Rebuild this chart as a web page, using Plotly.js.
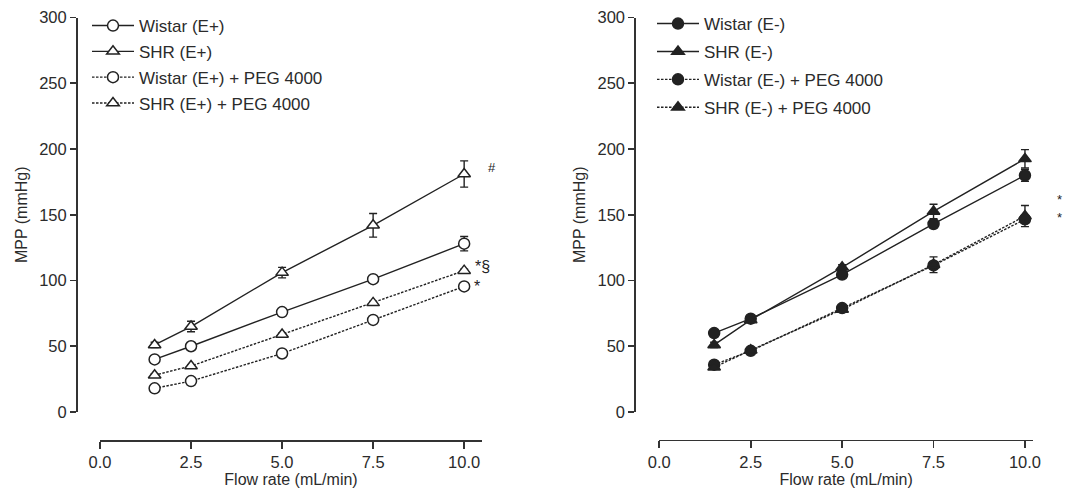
<!DOCTYPE html>
<html><head><meta charset="utf-8">
<script src="https://cdn.plot.ly/plotly-3.0.1.min.js"></script>
<style>html,body{margin:0;padding:0;background:#fff}</style>
</head><body><div id="chart" style="width:1066px;height:488px"></div>
<script>
// ---- data ----
const flowRate = [1.5, 2.5, 5, 7.5, 10];
const xTickVals = [0, 2.5, 5, 7.5, 10];
const xTickText = ['0.0', '2.5', '5.0', '7.5', '10.0'];
const yTickVals = [0, 50, 100, 150, 200, 250, 300];

const wistarEplus = [40, 50, 76, 101, 128];
const wistarEplusErr = [2, 2, 2, 2, 5.5];
const shrEplus = [51, 65, 106, 142, 181];
const shrEplusErr = [2, 4, 4, 9, 10];
const wistarEplusPeg = [18, 23.5, 44.5, 70, 95.5];
const wistarEplusPegErr = [1, 1, 1, 1, 1];
const shrEplusPeg = [28, 35, 59, 83, 107.5];
const shrEplusPegErr = [1, 1, 1, 1, 1];

const wistarEminus = [60, 71, 104.5, 143, 180];
const wistarEminusErr = [2, 2, 2, 2, 4.5];
const shrEminus = [51, 70, 110, 152.5, 192.5];
const shrEminusErr = [2, 2, 2, 5.5, 7];
const wistarEminusPeg = [36, 46.5, 79, 111.5, 146.5];
const wistarEminusPegErr = [1, 1, 1, 1, 1];
const shrEminusPeg = [34, 47, 78, 112, 149];
const shrEminusPegErr = [1, 1, 1, 6, 8];

const namesLeft = ['Wistar (E+)', 'SHR (E+)', 'Wistar (E+) + PEG 4000', 'SHR (E+) + PEG 4000'];
const namesRight = ['Wistar (E-)', 'SHR (E-)', 'Wistar (E-) + PEG 4000', 'SHR (E-) + PEG 4000'];

// ---- helpers ----
const W = 1066, H = 488;
const fx = p => p / W, fy = p => 1 - p / H;
const INK = '#222';
const TXT = '#2b2b2b';
const FONT = 'Liberation Sans, Arial, Helvetica, sans-serif';

function mk(name, y, err, symbol, filled, dashed, xa, ya, leg, grp) {
  return {
    type: 'scatter', mode: 'lines+markers', name: name,
    x: flowRate, y: y, xaxis: xa, yaxis: ya, legend: leg, legendgroup: grp,
    line: {color: INK, width: 1.4, dash: dashed ? '2.5px,1.5px' : 'solid'},
    marker: {symbol: symbol, size: 11, color: filled ? INK : '#fff', line: {color: INK, width: 1.5}},
    error_y: {type: 'data', array: err, visible: true, color: INK, thickness: 1.4, width: 4},
    cliponaxis: false
  };
}

const data = [
  mk(namesLeft[0], wistarEplus, wistarEplusErr, 'circle', false, false, 'x', 'y', 'legend', 'a1'),
  mk(namesLeft[1], shrEplus, shrEplusErr, 'triangle-up', false, false, 'x', 'y', 'legend', 'a2'),
  mk(namesLeft[2], wistarEplusPeg, wistarEplusPegErr, 'circle', false, true, 'x', 'y', 'legend', 'a3'),
  mk(namesLeft[3], shrEplusPeg, shrEplusPegErr, 'triangle-up', false, true, 'x', 'y', 'legend', 'a4'),
  mk(namesRight[0], wistarEminus, wistarEminusErr, 'circle', true, false, 'x2', 'y2', 'legend2', 'b1'),
  mk(namesRight[1], shrEminus, shrEminusErr, 'triangle-up', true, false, 'x2', 'y2', 'legend2', 'b2'),
  mk(namesRight[2], wistarEminusPeg, wistarEminusPegErr, 'circle', true, true, 'x2', 'y2', 'legend2', 'b3'),
  mk(namesRight[3], shrEminusPeg, shrEminusPegErr, 'triangle-up', true, true, 'x2', 'y2', 'legend2', 'b4')
];

const axBase = {
  showgrid: false, zeroline: false, showline: true, linecolor: '#333', linewidth: 1.6,
  ticks: 'outside', tickcolor: '#333', tickwidth: 1.6,
  tickfont: {family: FONT, size: 16.5, color: TXT}, fixedrange: true
};
function xAx(d0, d1, rmax, pos) {
  return Object.assign({}, axBase, {
    domain: [fx(d0), fx(d1)], range: [0, rmax], anchor: 'free', position: fy(pos),
    tickvals: xTickVals, ticktext: xTickText, ticklen: 7,
    title: {text: 'Flow rate (mL/min)', font: {family: FONT, size: 16, color: TXT}, standoff: 5}
  });
}
function yAx(pos) {
  return Object.assign({}, axBase, {
    domain: [fy(412), fy(17.5)], range: [0, 300], anchor: 'free', position: fx(pos),
    tickvals: yTickVals, ticklen: 6,
    title: {text: 'MPP (mmHg)', font: {family: FONT, size: 16, color: TXT}, standoff: 6}
  });
}
const legBase = {
  xanchor: 'left', yanchor: 'top', bgcolor: 'rgba(0,0,0,0)', borderwidth: 0,
  font: {family: FONT, size: 17, color: TXT}, traceorder: 'grouped'
};
const ann = (text, xr, yr, x, y, xs, size) => ({
  text: text, xref: xr, yref: yr, x: x, y: y, xshift: xs, showarrow: false,
  font: {family: FONT, size: size, color: INK}, xanchor: 'center', yanchor: 'middle'
});

const layout = {
  width: W, height: H, margin: {l: 0, r: 0, t: 0, b: 0},
  paper_bgcolor: '#fff', plot_bgcolor: 'rgba(0,0,0,0)',
  font: {family: FONT, size: 17, color: TXT},
  xaxis: xAx(100, 482, 10.49, 440),
  yaxis: yAx(76),
  xaxis2: xAx(659.3, 1033, 10.22, 439.5),
  yaxis2: yAx(634.3),
  legend: Object.assign({}, legBase, {x: fx(87), y: fy(8), tracegroupgap: 0.7, itemwidth: 42}),
  legend2: Object.assign({}, legBase, {x: fx(652), y: fy(6), tracegroupgap: 2.8, itemwidth: 42}),
  annotations: [
    ann('#', 'x', 'y', 10, 186, 28, 13),
    ann('*§', 'x', 'y', 10, 110.4, 18, 16),
    ann('*', 'x', 'y', 10, 95.2, 13, 16),
    ann('*', 'x2', 'y2', 10, 161.5, 35, 13),
    ann('*', 'x2', 'y2', 10, 148, 35, 13)
  ]
};

Plotly.newPlot('chart', data, layout, {displayModeBar: false, staticPlot: true});
</script></body></html>
